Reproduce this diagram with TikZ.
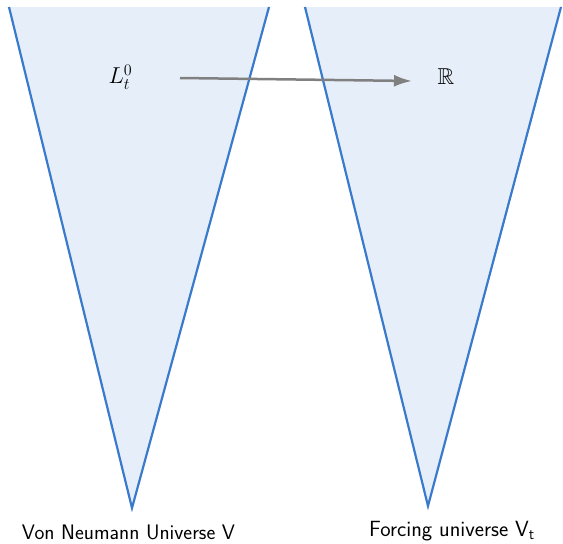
\RequirePackage{fix-cm}
\documentclass[tikz,border=0pt]{standalone}
\usepackage{amssymb}
\usetikzlibrary{arrows.meta}
\definecolor{coneblue}{RGB}{58,122,204}
\definecolor{conefill}{RGB}{230,239,249}
\definecolor{arrowgray}{RGB}{128,128,128}
\tikzset{
  cone/.style={draw=coneblue, line width=2.2pt, line join=miter},
  conebg/.style={fill=conefill},
  lbl/.style={font=\fontsize{21}{24}\selectfont\sffamily, inner sep=0pt, anchor=base},
  mlbl/.style={font=\fontsize{23}{26}\selectfont, inner sep=0pt},
  mapto/.style={draw=arrowgray, line width=2.5pt, -{Latex[length=18pt,width=12pt]}}
}
\begin{document}
\begin{tikzpicture}[x=1pt,y=-1pt]
\useasboundingbox (0,0) rectangle (563,544);
% left cone
\coordinate (la) at (9,7);
\coordinate (lb) at (132,508);
\coordinate (lc) at (269,7);
\fill[conebg] (la) -- (lb) -- (lc) -- cycle;
\draw[cone] (la) -- (lb) -- (lc);
% right cone
\coordinate (ra) at (305,7);
\coordinate (rb) at (428,506);
\coordinate (rc) at (561,7);
\fill[conebg] (ra) -- (rb) -- (rc) -- cycle;
\draw[cone] (ra) -- (rb) -- (rc);
% labels
\node[mlbl] (L) at (120.5,77) {$L_t^0$};
\node[mlbl] (R) at (446,77) {$\mathbb{R}$};
\coordinate (as) at (180,78);
\coordinate (ae) at (412,81);
\draw[mapto] (as) -- (ae);
\node[lbl] (lv) at (128.5,539) {Von Neumann Universe V};
\node[lbl, font=\fontsize{22}{24}\selectfont\sffamily] (lf) at (452,536) {Forcing universe V$_\mathsf{t}$};
\end{tikzpicture}
\end{document}
